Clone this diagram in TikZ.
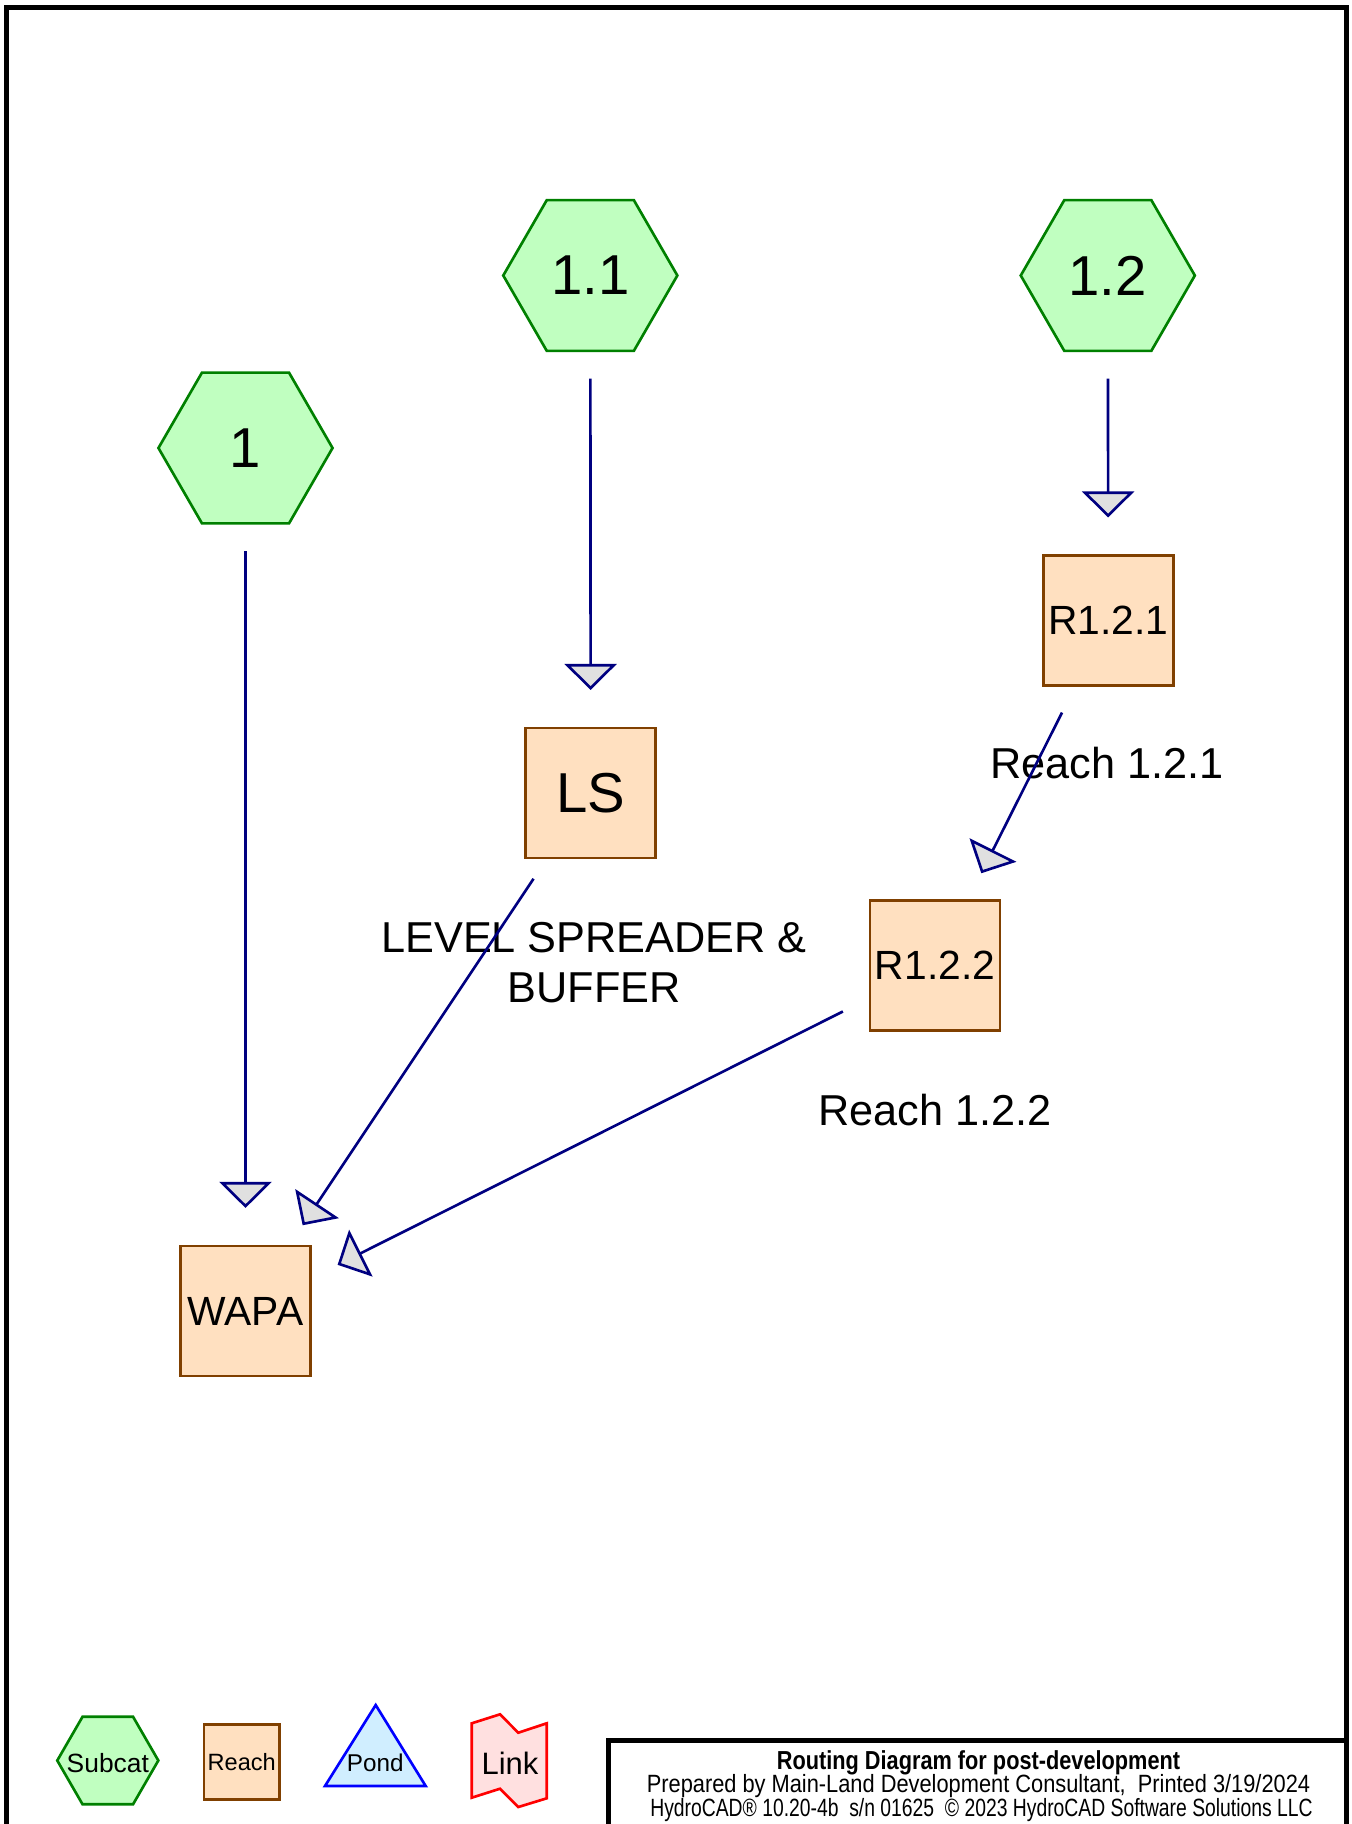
\documentclass[tikz,border=0pt]{standalone}
\usepackage{fontspec}
\setmainfont{Liberation Sans}
\usetikzlibrary{shapes.geometric,arrows.meta}

\definecolor{subfill}{HTML}{C0FFC0}
\definecolor{subdraw}{HTML}{008000}
\definecolor{reachfill}{HTML}{FFE0C0}
\definecolor{reachdraw}{HTML}{804000}
\definecolor{pondfill}{HTML}{D0EEFF}
\definecolor{ponddraw}{HTML}{0000FF}
\definecolor{linkfill}{HTML}{FFE0E0}
\definecolor{linkdraw}{HTML}{FF0000}
\definecolor{flowline}{HTML}{000080}
\definecolor{tipfill}{HTML}{E0E0E0}

\begin{document}
\begin{tikzpicture}[x=0.01cm,y=-0.01cm,
  subcat/.style={regular polygon, regular polygon sides=6, draw=subdraw, fill=subfill,
    line width=0.75pt, inner sep=0pt, minimum size=1.74cm,
    font=\fontsize{16}{19.2}\selectfont},
  reach/.style={rectangle, draw=reachdraw, fill=reachfill, line width=0.75pt,
    inner sep=0pt, minimum size=1.30cm, font=\fontsize{11.6}{14}\selectfont},
  flow/.style={draw=flowline, line width=0.75pt, shorten <=1.03cm, shorten >=1.03cm,
    -{Triangle[length=0.26cm,width=0.52cm,fill=tipfill]}},
  note/.style={font=\fontsize{12.3}{14.2}\selectfont, align=center, inner sep=0pt},
  frame/.style={line width=1.42pt},
  titleline/.style={anchor=base, inner sep=0pt},
]
\useasboundingbox (0,0) rectangle (1351,1824);

% page frame and title block
\begin{scope}
  \clip (0,0) rectangle (1351,1824);
  \draw[frame] (6.5,1850) -- (6.5,7.5) -- (1346.5,7.5) -- (1346.5,1850);
  \draw[frame] (608.6,1850) -- (608.6,1740) -- (1346.5,1740);
\end{scope}

% subcatchments
\node[subcat] (s11) at (590.3,275.5) {1.1};
\node[subcat] (s12) at (1107.8,275.5) {1.2};
\node[subcat] (s1)  at (245.5,448) {1};

% reaches
\node[reach] (r121) at (1108.3,620.5) {R1.2.1};
\node[reach, font=\fontsize{16}{19.2}\selectfont] (ls) at (590.7,793) {LS};
\node[reach] (r122) at (935,965.3) {R1.2.2};
\node[reach] (wapa) at (245.5,1311) {WAPA};

% reach descriptions
\node[note] (r121txt) at (1106.7,763.5) {Reach 1.2.1};
\node[note] (lstxt) at (594,962.5) {LEVEL SPREADER \&\\BUFFER};
\node[note] (r122txt) at (935,1110) {Reach 1.2.2};

% routing
\draw[flow] (s11.center) -- (ls.center);
\draw[flow] (s12.center) -- (r121.center);
\draw[flow] (s1.center) -- (wapa.center);
\draw[flow] (r121.center) -- (r122.center);
\draw[flow] (ls.center) -- (wapa.center);
\draw[flow] (r122.center) -- (wapa.center);

% legend
\node[subcat, minimum size=1.01cm,
  label={[inner sep=0pt, yshift=-0.022cm, font=\fontsize{7.5}{9}\selectfont]center:Subcat}] (legsub) at (107.8,1760.5) {};
\node[reach, minimum size=0.75cm, font=\fontsize{6.7}{8}\selectfont] (legreach) at (241.7,1762) {Reach};
\draw[draw=ponddraw, fill=pondfill, line width=0.75pt]
  (375.7,1705) -- (425.7,1786) -- (325,1786) -- cycle;
\node[inner sep=0pt, font=\fontsize{6.9}{8.3}\selectfont] (legpond) at (375.3,1763) {Pond};
\draw[draw=linkdraw, fill=linkfill, line width=0.75pt]
  (471.7,1723.3) -- (500,1714.3) -- (518.3,1732.7) -- (546.7,1723.3)
  -- (546.7,1798.3) -- (518.3,1807) -- (500,1788.7) -- (471.7,1797.7) -- cycle;
\node[inner sep=0pt, font=\fontsize{8.8}{10.5}\selectfont] (leglink) at (510,1763) {Link};

% title block text
\node[titleline, font=\fontsize{7.4}{8.9}\selectfont\bfseries] (title) at (978.5,1769)
  {\resizebox{4.03cm}{\height}{Routing Diagram for post-development}};
\node[titleline, font=\fontsize{7.1}{8.5}\selectfont] (prep) at (978.5,1792.5)
  {\resizebox{6.63cm}{\height}{Prepared by Main-Land Development Consultant,\ \ Printed 3/19/2024}};
\node[titleline, font=\fontsize{7.1}{8.5}\selectfont] (ver) at (981.5,1816)
  {\resizebox{6.62cm}{\height}{HydroCAD® 10.20-4b\ \ s/n 01625\ \ © 2023 HydroCAD Software Solutions LLC}};
\end{tikzpicture}
\end{document}
